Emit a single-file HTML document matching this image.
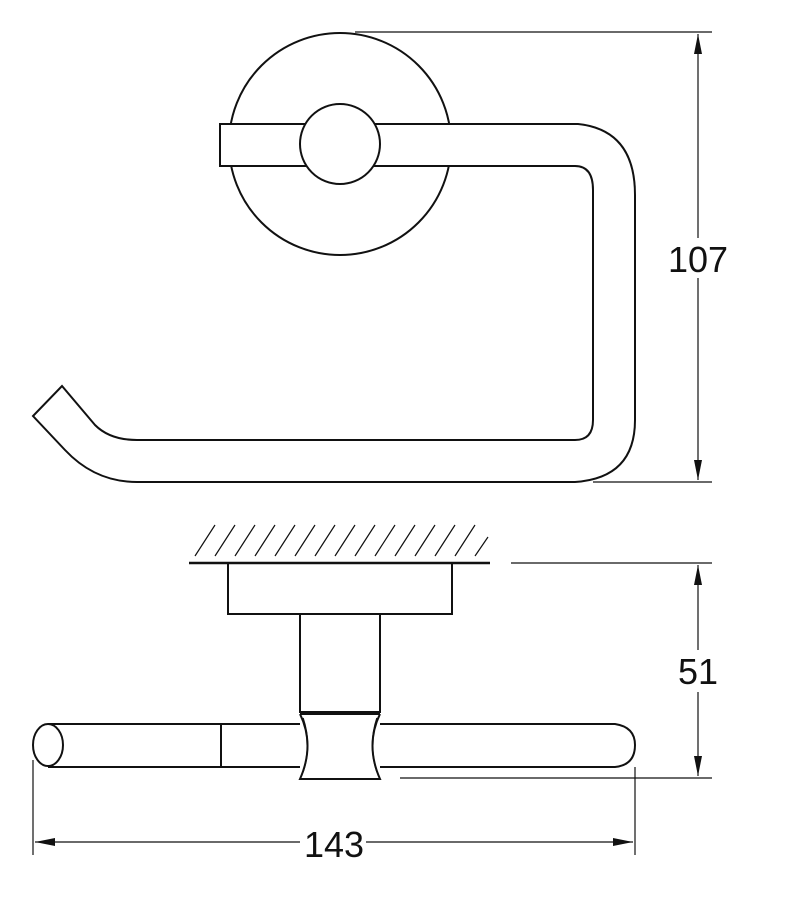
<!DOCTYPE html>
<html><head><meta charset="utf-8"><style>
html,body{margin:0;padding:0;background:#fff}
svg{display:block}
text{font-family:"Liberation Sans Narrow","Liberation Sans",sans-serif;font-size:36px;fill:#111}
</style></head><body>
<svg width="785" height="900" viewBox="0 0 785 900" xmlns="http://www.w3.org/2000/svg">
<defs>
<marker id="a" viewBox="0 0 20 8" refX="20" refY="4" markerWidth="20" markerHeight="8" orient="auto-start-reverse" markerUnits="userSpaceOnUse"><path d="M0,0 L20,4 L0,8 Z" fill="#111"/></marker>
</defs>
<g fill="none" stroke="#111" stroke-width="2">
<circle cx="340" cy="144" r="111"/>
<path d="M220,124 H578 Q635,130 635,195 V420 Q635,478 575,482 H137 Q95,482 65,450 L33,416 L62,386 L95,425 Q110,440 137,440 H575 Q593,440 593,420 V190 Q593,166 575,166 H220 Z" fill="#fff"/>
<circle cx="340" cy="144" r="40" fill="#fff"/>
</g>
<g stroke="#111" stroke-width="1.2" fill="none">
<line x1="355" y1="32" x2="712" y2="32"/>
<line x1="593" y1="482" x2="712" y2="482"/>
<line x1="698" y1="34" x2="698" y2="238" marker-start="url(#a)"/>
<line x1="698" y1="278" x2="698" y2="480" marker-end="url(#a)"/>
</g>
<text x="698" y="272" text-anchor="middle">107</text>

<g stroke="#111" stroke-width="1.2">
<line x1="195" y1="556" x2="215" y2="525"/><line x1="215" y1="556" x2="235" y2="525"/>
<line x1="235" y1="556" x2="255" y2="525"/><line x1="255" y1="556" x2="275" y2="525"/>
<line x1="275" y1="556" x2="295" y2="525"/><line x1="295" y1="556" x2="315" y2="525"/>
<line x1="315" y1="556" x2="335" y2="525"/><line x1="335" y1="556" x2="355" y2="525"/>
<line x1="355" y1="556" x2="375" y2="525"/><line x1="375" y1="556" x2="395" y2="525"/>
<line x1="395" y1="556" x2="415" y2="525"/><line x1="415" y1="556" x2="435" y2="525"/>
<line x1="435" y1="556" x2="455" y2="525"/><line x1="455" y1="556" x2="475" y2="525"/>
<line x1="475" y1="556" x2="488" y2="537"/>
</g>
<g fill="none" stroke="#111" stroke-width="2">
<line x1="189" y1="563" x2="490" y2="563" stroke-width="2.5"/>
<rect x="228" y="563" width="224" height="51"/>
<rect x="300" y="614" width="80" height="98"/>
<line x1="300" y1="712" x2="380" y2="712"/>
<line x1="300" y1="714" x2="380" y2="714"/>
<path d="M48,724 H300 M48,767 H300 M380,724 H615 Q635,727 635,745 Q635,765 615,767 H380"/>
<ellipse cx="48" cy="745" rx="15" ry="21"/>
<line x1="221" y1="724" x2="221" y2="767"/>
<path d="M300,714 Q315,745 300,779 H380 Q365,745 380,714"/>
<path d="M303,718 Q312,745 303,772 M377,718 Q368,745 377,772" stroke-width="1.5"/>
</g>
<g stroke="#111" stroke-width="1.2" fill="none">
<line x1="511" y1="563" x2="712" y2="563"/>
<line x1="400" y1="778" x2="712" y2="778"/>
<line x1="698" y1="565" x2="698" y2="650" marker-start="url(#a)"/>
<line x1="698" y1="692" x2="698" y2="776" marker-end="url(#a)"/>
<line x1="33" y1="760" x2="33" y2="855"/>
<line x1="635" y1="767" x2="635" y2="855"/>
<line x1="35" y1="842" x2="300" y2="842" marker-start="url(#a)"/>
<line x1="366" y1="842" x2="633" y2="842" marker-end="url(#a)"/>
</g>
<text x="698" y="684" text-anchor="middle">51</text>
<text x="334" y="857" text-anchor="middle">143</text>
</svg>
</body></html>
